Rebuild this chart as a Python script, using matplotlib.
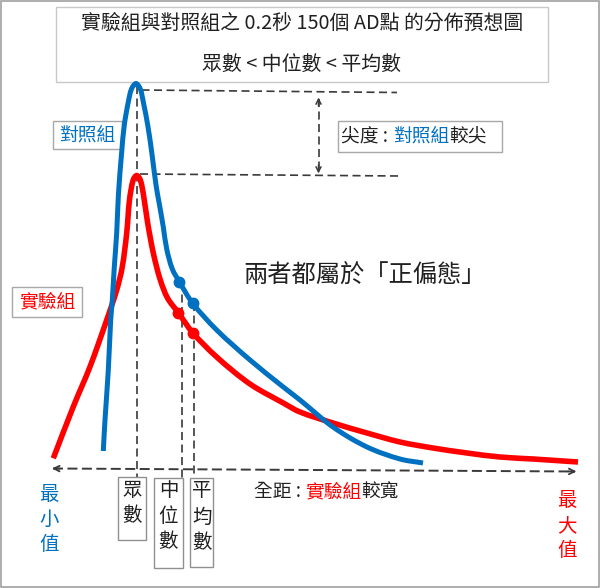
import matplotlib
matplotlib.use("Agg")
import numpy as np
import matplotlib.pyplot as plt
from matplotlib.patches import Rectangle, PathPatch
from matplotlib.path import Path

plt.rcParams['font.family'] = ['Noto Sans CJK TC', 'DejaVu Sans']
plt.rcParams['lines.scale_dashes'] = False

# ---- data (curve traces, pixel space of the sketch) ----
blue_x = [103.3, 105.0, 108.3, 110.7, 112.3, 114.3, 116.7, 118.4, 121.7, 124.3, 128.3,
          131.5, 136.0, 140.3, 143.3, 147.7, 151.7, 156.0, 159.5, 163.3, 166.7,
          172.3, 179.3, 192.7, 216.7, 250.0, 283.3, 300.0, 333.0, 367.0, 400.0, 423.0]
blue_y = [451, 420, 370, 320, 300, 267, 233, 195, 152, 125, 102,
          89, 83.5, 89, 102, 125, 152, 185, 205, 227, 249,
          269, 281.7, 303.3, 330, 360, 387, 400, 427, 447, 459, 463]

red_x = [53.3, 73.3, 90.0, 106.7, 116.7, 122.3, 126.7, 129.5,
         133.2, 136.7, 140.3, 143.5, 147.5, 153.3, 160.0, 167.5, 178.3, 192.7, 216.7,
         250.0, 283.3, 300.0, 333.0, 367.0, 400.0, 433.0, 467.0, 500.0, 533.0, 578.0]
red_y = [458.3, 406.7, 366.7, 320, 290, 266.7, 233, 200,
         180, 175.5, 180, 195, 222, 253, 279, 298, 312.7, 332.7, 357,
         384, 403, 412, 423, 433, 442, 448, 453, 457, 459, 462]

mode_x = 136.5
blue_median = (179.3, 281.7)
blue_mean = (192.7, 303.3)
red_median = (178.3, 312.7)
red_mean = (192.7, 332.7)
blue_peak_y = 91
red_peak_y = 174.5

BLUE = '#0070C0'
RED = '#FF0000'
DARK = '#3a3a3a'
TXT = '#202020'


def smooth_path(xs, ys):
    """Smooth curve through the given points (cubic Bezier segments)."""
    P = np.column_stack([xs, ys]).astype(float)
    n = len(P)
    d = np.linalg.norm(np.diff(P, axis=0), axis=1)
    T = np.zeros_like(P)
    T[0] = (P[1] - P[0]) / d[0]
    T[-1] = (P[-1] - P[-2]) / d[-1]
    for i in range(1, n - 1):
        T[i] = (P[i + 1] - P[i - 1]) / (d[i - 1] + d[i])
    verts = [P[0]]
    codes = [Path.MOVETO]
    for i in range(n - 1):
        c1 = P[i] + T[i] * d[i] / 3
        c2 = P[i + 1] - T[i + 1] * d[i] / 3
        verts += [c1, c2, P[i + 1]]
        codes += [Path.CURVE4] * 3
    return Path(verts, codes)


fig = plt.figure(figsize=(6.0, 5.88), dpi=100)
ax = fig.add_axes([0, 0, 1, 1])
ax.set_xlim(0, 600)
ax.set_ylim(588, 0)
ax.axis('off')

# outer border
ax.add_patch(Rectangle((0.8, 0.8), 597.8, 586.0, fill=False, ec='#a0a0a0', lw=1.2))

# title box
ax.add_patch(Rectangle((56, 7), 492, 75, fill=False, ec='#c8c8c8', lw=1.0))
ax.text(302, 23, '實驗組與對照組之 0.2秒 150個 AD點 的分佈預想圖', ha='center', va='center',
        fontsize=14.3, color=TXT)
ax.text(302, 64, '眾數 < 中位數 < 平均數', ha='center', va='center', fontsize=14.3, color=TXT)

dash = dict(color=DARK, lw=1.2, dashes=(5.8, 3.2))

# vertical reference lines
ax.plot([mode_x, mode_x], [86, 477], **dash)
ax.plot([181.5, 181.5], [blue_median[1], 478], **dash)
ax.plot([194.0, 194.0], [blue_mean[1], 478], **dash)

# horizontal peak lines
ax.plot([141.5, 397], [blue_peak_y - 1, blue_peak_y + 1.5], **dash)
ax.plot([140, 400], [red_peak_y - 0.5, red_peak_y + 1.5], **dash)

# vertical double arrow (kurtosis)
ax.plot([318.5, 318.5], [99, 172.5], **dash)
for y0, y1 in [(106, 97.5), (165, 173.5)]:
    ax.annotate('', xy=(318.5, y1), xytext=(318.5, y0),
                arrowprops=dict(arrowstyle='->', color=DARK, lw=1.1, mutation_scale=9,
                                shrinkA=0, shrinkB=0))

# range arrow
ax.plot([53, 575], [468.5, 471.5], color=DARK, lw=1.4, dashes=(7.2, 3.2))
ax.annotate('', xy=(52, 468.5), xytext=(60, 468.6),
            arrowprops=dict(arrowstyle='->', color=DARK, lw=1.3, mutation_scale=10,
                            shrinkA=0, shrinkB=0))
ax.annotate('', xy=(576.5, 471.5), xytext=(568, 471.4),
            arrowprops=dict(arrowstyle='->', color=DARK, lw=1.3, mutation_scale=10,
                            shrinkA=0, shrinkB=0))

# curves
ax.add_patch(PathPatch(smooth_path(red_x, red_y), fill=False, ec=RED, lw=4.0,
                       capstyle='butt', joinstyle='round', zorder=3))
ax.add_patch(PathPatch(smooth_path(blue_x, blue_y), fill=False, ec=BLUE, lw=3.6,
                       capstyle='butt', joinstyle='round', zorder=4))

ax.plot([blue_median[0], blue_mean[0]], [blue_median[1], blue_mean[1]], 'o', color=BLUE, ms=7.5, zorder=5)
ax.plot([red_median[0], red_mean[0]], [red_median[1], red_mean[1]], 'o', color=RED, ms=7.5, zorder=5)

# labels boxes
ax.add_patch(Rectangle((53, 121), 69, 28, fill=True, fc='white', ec='#a8a8a8', lw=1.0, zorder=2))
ax.text(87.5, 135, '對照組', ha='center', va='center', fontsize=13.5, color=BLUE, zorder=6)

ax.add_patch(Rectangle((12, 287), 70, 30, fill=True, fc='white', ec='#a8a8a8', lw=1.0, zorder=2))
ax.text(47, 302, '實驗組', ha='center', va='center', fontsize=13.5, color=RED, zorder=6)

ax.add_patch(Rectangle((338, 121), 164, 31, fill=True, fc='white', ec='#a8a8a8', lw=1.0, zorder=2))
ax.text(341, 136.5, '尖度 :', ha='left', va='center', fontsize=13.5, color=TXT)
ax.text(393.5, 136.5, '對照組', ha='left', va='center', fontsize=13.5, color=BLUE)
ax.text(449.5, 136.5, '較尖', ha='left', va='center', fontsize=13.5, color=TXT)

ax.text(365, 276, '兩者都屬於「正偏態」', ha='center', va='center', fontsize=17.5, color=TXT)

ax.text(254, 492, '全距 :', ha='left', va='center', fontsize=13.5, color=TXT)
ax.text(305, 492, '實驗組', ha='left', va='center', fontsize=13.5, color=RED)
ax.text(361, 492, '較寬', ha='left', va='center', fontsize=13.5, color=TXT)


# stacked vertical labels
def stack(x, ys, chars, color, box=None):
    if box is not None:
        ax.add_patch(Rectangle((box[0], box[1]), box[2] - box[0], box[3] - box[1],
                               fill=True, fc='white', ec='#909090', lw=1.0, zorder=2))
    for y, c in zip(ys, chars):
        ax.text(x, y, c, ha='center', va='center', fontsize=14, color=color, zorder=6)


stack(132, [490, 516], '眾數', TXT, (118, 477, 146, 540))
stack(168.5, [490, 517, 542], '中位數', TXT, (154, 478, 183, 568))
stack(202, [491, 517, 543], '平均數', TXT, (190, 478, 213, 567))
stack(49, [495, 519, 544], '最小值', BLUE)
stack(567, [500, 526, 550], '最大值', RED)

fig.savefig('out.png', dpi=100)
